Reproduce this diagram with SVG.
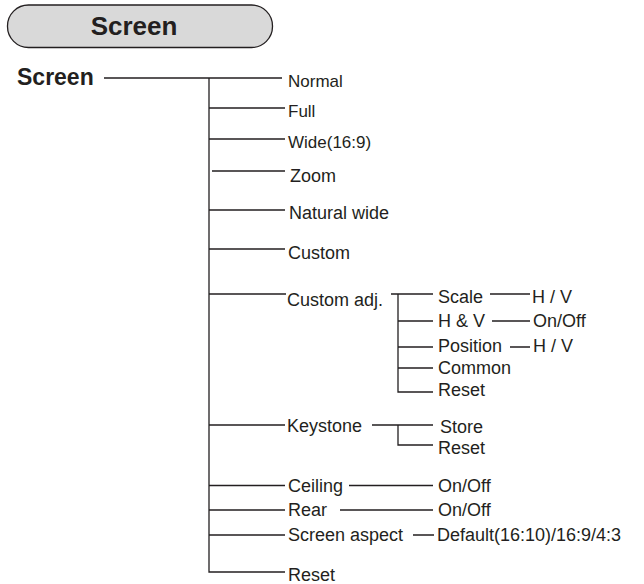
<svg xmlns="http://www.w3.org/2000/svg" width="644" height="584" viewBox="0 0 644 584">
<style>
text{font-family:"Liberation Sans",Arial,Helvetica,sans-serif;fill:#231f20;font-size:18px}
.s{font-size:17px}
.b{font-weight:bold}
.ln{fill:none;stroke:#231f20;stroke-width:1.3}
</style>
<rect width="644" height="584" fill="#ffffff"/>
<g id="title">
<rect x="7.5" y="5" width="265" height="42.5" rx="21" ry="21" fill="#d9d9d9" stroke="#231f20" stroke-width="1.3"/>
<text class="b" x="134" y="35" text-anchor="middle" style="font-size:26px">Screen</text>
</g>
<g id="connectors" class="ln">
<path class="ln" d="M104 78H282M209 78V572H285"/>
<path class="ln" d="M209 108H285M209 139H285M212 171H285M209 210H285M209 249H285M209 294H286M209 425H285M209 485.5H285M209 510H285M209 535H285"/>
<path class="ln" d="M391 294H433M398 294V392H433M398 321H433M398 347H433M398 368H433"/>
<path class="ln" d="M490 294H530M492 321H530M510 347H530"/>
<path class="ln" d="M372 425H433M398 425V445H433"/>
<path class="ln" d="M349 485.5H433M340 510H433M413 535H434"/>
</g>
<g id="n-screen"><text class="b" x="17" y="85" style="font-size:23px">Screen</text></g>
<g id="n-normal"><text class="s" x="288" y="86.5">Normal</text></g>
<g id="n-full"><text class="s" x="288" y="116.5">Full</text></g>
<g id="n-wide"><text class="s" x="288" y="147.5">Wide(16:9)</text></g>
<g id="n-zoom"><text x="290" y="181.5">Zoom</text></g>
<g id="n-natural"><text x="289" y="218.5">Natural wide</text></g>
<g id="n-custom"><text x="288" y="258.5">Custom</text></g>
<g id="n-customadj"><text x="287" y="305.5">Custom adj.</text></g>
<g id="n-scale"><text x="438" y="302.5">Scale</text></g>
<g id="n-scale-hv"><text x="532" y="302.5">H / V</text></g>
<g id="n-hv"><text x="438" y="327">H &amp; V</text></g>
<g id="n-hv-onoff"><text x="533" y="327">On/Off</text></g>
<g id="n-position"><text x="438" y="352">Position</text></g>
<g id="n-position-hv"><text x="533" y="352">H / V</text></g>
<g id="n-common"><text x="438" y="373.5">Common</text></g>
<g id="n-adj-reset"><text x="438" y="395.5">Reset</text></g>
<g id="n-keystone"><text x="287" y="432">Keystone</text></g>
<g id="n-store"><text x="440" y="433">Store</text></g>
<g id="n-ks-reset"><text x="438" y="454">Reset</text></g>
<g id="n-ceiling"><text x="288" y="491.5">Ceiling</text></g>
<g id="n-ceiling-onoff"><text x="438" y="491.5">On/Off</text></g>
<g id="n-rear"><text x="288" y="516">Rear</text></g>
<g id="n-rear-onoff"><text x="438" y="516">On/Off</text></g>
<g id="n-aspect"><text x="288" y="540.5">Screen aspect</text></g>
<g id="n-aspect-val"><text x="437" y="540.5">Default(16:10)/16:9/4:3</text></g>
<g id="n-reset"><text x="288" y="580.5">Reset</text></g>
</svg>
